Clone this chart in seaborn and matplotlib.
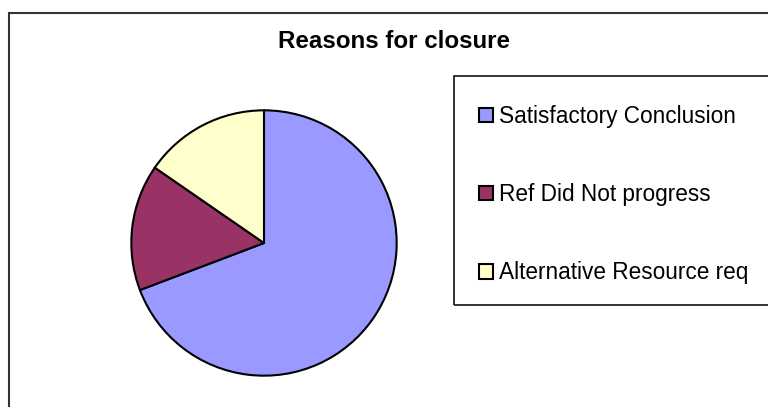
import matplotlib
matplotlib.use("Agg")
import matplotlib.pyplot as plt
import matplotlib.patches as mpatches
import seaborn as sns

categories = ["Satisfactory Conclusion", "Ref Did Not progress", "Alternative Resource req"]
values = [9, 2, 2]
colors = ["#9999FF", "#993366", "#FFFFCC"]
title = "Reasons for closure"

sns.set_theme(style="white")
plt.rcParams['font.family'] = ['Liberation Sans', 'DejaVu Sans']

W, H = 768, 407
fig = plt.figure(figsize=(W / 100, H / 100), dpi=100)
fig.patch.set_facecolor("white")

# outer chart frame (extends past right/bottom edge)
fig.patches.append(mpatches.Rectangle((8.5 / W, -0.2), 1.2, 1 - 12.5 / H + 0.2,
                                      transform=fig.transFigure, fill=False,
                                      edgecolor="#333333", linewidth=1.5, clip_on=False))
# legend box
fig.patches.append(mpatches.Rectangle((453.5 / W, 1 - 305 / H), 0.5, (305 - 75.5) / H,
                                      transform=fig.transFigure, fill=False,
                                      edgecolor="#222222", linewidth=1.3, clip_on=False))

cx, cy, r = 264, 243, 134
ax = fig.add_axes([(cx - r) / W, (H - cy - r) / H, 2 * r / W, 2 * r / H])
pal = sns.color_palette(colors)
wedges, _ = ax.pie(values, colors=pal, startangle=90, counterclock=False,
                   wedgeprops=dict(edgecolor="black", linewidth=1.5))
ax.set_xlim(-1.01, 1.01)
ax.set_ylim(-1.01, 1.01)
ax.set_aspect("equal")
ax.axis("off")

fig.text(394.5 / W, 1 - 41 / H, title, ha="center", va="center",
         fontsize=17.4, fontweight="bold", color="black")

handles = [mpatches.Patch(facecolor=c, edgecolor="black", linewidth=1.5) for c in pal]
leg = fig.legend(handles, categories, loc="upper left",
                 bbox_to_anchor=(479 / W, 1 - 105 / H), frameon=False,
                 fontsize=16.3, handlelength=0.6, handleheight=0.6,
                 handletextpad=0.27, labelspacing=2.44, borderaxespad=0, borderpad=0)
for t in leg.get_texts():
    t.set_color("black")

fig.savefig("out.png", dpi=100, facecolor="white")
